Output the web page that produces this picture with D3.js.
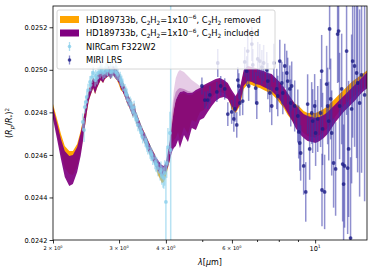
<!DOCTYPE html>
<html>
<head>
<meta charset="utf-8">
<script src="https://cdn.jsdelivr.net/npm/d3@7"></script>
<style>
  body { margin: 0; background: #fff; }
  text { font-family: "DejaVu Sans", sans-serif; }
</style>
</head>
<body>
<div id="chart-area"></div>
<script>
// model grid (micron) and transit depth envelopes
var modelWave = [2.00,2.05,2.10,2.15,2.21,2.26,2.32,2.37,
  2.40,2.43,2.46,2.49,2.52,2.56,2.59,2.62,2.65,2.68,
  2.72,2.75,2.79,2.82,2.85,2.89,2.93,2.96,3.00,3.03,
  3.07,3.11,3.15,3.19,3.23,3.27,3.29,
  3.33,3.37,3.41,3.45,3.49,3.54,3.58,3.63,3.67,3.72,
  3.76,3.81,3.86,3.90,3.95,4.00,4.05,4.10,4.15,4.20,
  4.25,4.31,4.36,
  4.47,4.58,4.69,4.81,4.93,5.05,5.17,5.30,5.43,5.57,
  5.71,5.85,5.99,6.14,6.30,6.45,6.61,6.78,6.94,7.12,
  7.29,7.48,7.66,7.85,8.05,8.25,8.45,8.66,8.87,9.10,
  9.32,9.55,9.79,10.03,10.28,10.54,10.80,11.07,11.34,11.62,
  11.91,12.21,12.51,12.82,13.14,13.47,13.80];

var purpleHi = [0.024825,0.024750,0.024675,0.024618,0.024595,0.024600,0.024637,0.024703,
  0.024750,0.024802,0.024858,0.024900,0.024933,0.024961,0.024952,0.024971,0.024985,0.024999,
  0.024985,0.024999,0.025008,0.025018,0.025004,0.025018,0.025008,0.024999,0.024985,0.024966,
  0.024943,0.024919,0.024896,0.024872,0.024853,0.024825,0.024844,
  0.024802,0.024778,0.024755,0.024731,0.024712,0.024689,0.024670,0.024647,0.024628,0.024609,
  0.024590,0.024576,0.024562,0.024553,0.024548,0.024567,0.024614,0.024670,0.024741,0.024811,
  0.024858,0.024882,0.024896,
  0.024900,0.024891,0.024891,0.024905,0.024914,0.024929,0.024938,0.024947,0.024957,0.024961,
  0.024952,0.024938,0.024905,0.024877,0.024914,0.024999,0.025018,0.025013,0.025008,0.024999,
  0.024994,0.024985,0.024980,0.024961,0.024943,0.024919,0.024891,0.024863,0.024835,0.024811,
  0.024792,0.024783,0.024778,0.024774,0.024778,0.024788,0.024802,0.024820,0.024839,0.024858,
  0.024877,0.024896,0.024914,0.024933,0.024952,0.024971,0.024990];

var purpleLo = [0.024769,0.024675,0.024581,0.024496,0.024454,0.024463,0.024520,0.024595,
  0.024656,0.024726,0.024797,0.024853,0.024882,0.024914,0.024886,0.024914,0.024933,0.024952,
  0.024938,0.024957,0.024966,0.024971,0.024957,0.024976,0.024961,0.024952,0.024938,0.024914,
  0.024896,0.024872,0.024844,0.024825,0.024802,0.024778,0.024797,
  0.024755,0.024731,0.024712,0.024684,0.024665,0.024642,0.024623,0.024600,0.024581,0.024562,
  0.024543,0.024524,0.024510,0.024501,0.024505,0.024520,0.024543,0.024576,0.024614,0.024632,
  0.024642,0.024670,0.024632,
  0.024694,0.024661,0.024726,0.024717,0.024764,0.024774,0.024802,0.024830,0.024853,0.024867,
  0.024872,0.024863,0.024830,0.024802,0.024839,0.024924,0.024947,0.024943,0.024933,0.024929,
  0.024919,0.024910,0.024900,0.024882,0.024858,0.024830,0.024797,0.024764,0.024726,0.024698,
  0.024679,0.024665,0.024661,0.024656,0.024665,0.024679,0.024698,0.024726,0.024755,0.024778,
  0.024802,0.024820,0.024839,0.024858,0.024882,0.024900,0.024914];

var orangeHi = [0.024839,0.024769,0.024698,0.024642,0.024618,0.024618,0.024651,0.024712,
  0.024759,0.024802,0.024858,0.024900,0.024933,0.024961,0.024952,0.024971,0.024985,0.024999,
  0.024985,0.024999,0.025008,0.025018,0.025004,0.025018,0.025008,0.024999,0.024980,0.024961,
  0.024943,0.024919,0.024896,0.024872,0.024853,0.024825,0.024844,
  0.024802,0.024778,0.024755,0.024731,0.024712,0.024689,0.024670,0.024647,0.024628,0.024609,
  0.024590,0.024567,0.024548,0.024534,0.024529,0.024553,0.024604,0.024661,0.024731,0.024802,
  0.024849,0.024872,0.024886,
  0.024891,0.024882,0.024882,0.024896,0.024905,0.024919,0.024929,0.024938,0.024947,0.024952,
  0.024943,0.024929,0.024891,0.024867,0.024900,0.024990,0.025008,0.025004,0.024999,0.024990,
  0.024985,0.024976,0.024971,0.024952,0.024933,0.024910,0.024882,0.024858,0.024839,0.024825,
  0.024806,0.024797,0.024797,0.024797,0.024806,0.024816,0.024830,0.024849,0.024867,0.024886,
  0.024905,0.024924,0.024943,0.024957,0.024971,0.024985,0.024999];

var orangeLo = [0.024783,0.024698,0.024614,0.024538,0.024510,0.024505,0.024548,0.024614,
  0.024670,0.024726,0.024797,0.024853,0.024882,0.024914,0.024886,0.024914,0.024933,0.024952,
  0.024938,0.024957,0.024966,0.024971,0.024957,0.024976,0.024961,0.024952,0.024929,0.024905,
  0.024896,0.024872,0.024844,0.024825,0.024802,0.024778,0.024797,
  0.024755,0.024731,0.024712,0.024684,0.024665,0.024642,0.024623,0.024600,0.024581,0.024562,
  0.024543,0.024505,0.024487,0.024468,0.024473,0.024501,0.024538,0.024576,0.024651,0.024670,
  0.024679,0.024708,0.024670,
  0.024731,0.024698,0.024764,0.024755,0.024802,0.024811,0.024839,0.024867,0.024891,0.024896,
  0.024891,0.024872,0.024816,0.024797,0.024830,0.024910,0.024933,0.024929,0.024919,0.024914,
  0.024905,0.024896,0.024886,0.024867,0.024844,0.024820,0.024788,0.024764,0.024745,0.024722,
  0.024703,0.024689,0.024684,0.024684,0.024694,0.024708,0.024726,0.024755,0.024783,0.024806,
  0.024830,0.024849,0.024867,0.024882,0.024900,0.024914,0.024929];

// wider posterior spread of the C2H2 model just past 4 micron
var haloWave = [4.10,4.15,4.20,4.25,4.31,4.36,4.47,4.58,4.69,4.81,4.93,5.05];
var haloHi   = [0.024694,0.024811,0.024905,0.024961,0.024990,0.024999,0.024990,0.024971,0.024952,0.024938,0.024924,0.024929];
var haloMid  = [0.024679,0.024774,0.024858,0.024896,0.024910,0.024914,0.024910,0.024900,0.024896,0.024900,0.024910,0.024929];
var haloBase = [0.024670,0.024741,0.024811,0.024858,0.024882,0.024896,0.024900,0.024891,0.024891,0.024905,0.024914,0.024929];

// NIRCam F322W2
var nirWave = [2.40,2.42,2.43,2.45,2.46,2.48,2.51,2.52,2.54,2.56,
  2.59,2.60,2.62,2.64,2.67,2.68,2.70,2.72,2.75,2.77,
  2.79,2.80,2.84,2.85,2.87,2.89,2.93,2.94,2.96,2.98,
  3.02,3.03,3.05,3.07,3.11,3.13,3.15,3.17,3.21,3.23,
  3.25,3.27,3.29,3.31,3.33,3.35,3.37,3.41,3.43,3.45,
  3.47,3.52,3.54,3.56,3.58,3.63,3.65,3.67,3.69,3.74,
  3.76,3.78,3.81,3.86,3.88,3.90,3.93,3.95,3.97,4.00,
  4.02,4.05,4.10,4.12];
var nirFlux = [0.024755,0.024717,0.024825,0.024849,0.024872,0.024905,0.024943,0.024929,0.024966,0.024985,
  0.024952,0.024971,0.024961,0.024985,0.024990,0.025008,0.024999,0.024985,0.024990,0.025004,
  0.024999,0.024999,0.024990,0.025008,0.024990,0.024999,0.024990,0.025013,0.024985,0.024976,
  0.024961,0.024952,0.024943,0.024929,0.024905,0.024891,0.024882,0.024858,0.024844,0.024835,
  0.024820,0.024802,0.024825,0.024788,0.024774,0.024764,0.024741,0.024726,0.024712,0.024703,
  0.024684,0.024670,0.024661,0.024647,0.024632,0.024614,0.024604,0.024600,0.024585,0.024567,
  0.024557,0.024553,0.024538,0.024520,0.024529,0.024505,0.024496,0.024491,0.024515,0.024379,
  0.024562,0.024637,0.024703,0.024623];
var nirErr = [0.000040,0.000056,0.000030,0.000030,0.000028,0.000030,0.000028,0.000030,0.000028,0.000030,
  0.000030,0.000028,0.000030,0.000028,0.000030,0.000028,0.000030,0.000030,0.000028,0.000030,
  0.000030,0.000028,0.000030,0.000028,0.000030,0.000030,0.000028,0.000030,0.000030,0.000028,
  0.000030,0.000028,0.000030,0.000030,0.000028,0.000030,0.000030,0.000028,0.000030,0.000030,
  0.000030,0.000028,0.000030,0.000030,0.000028,0.000030,0.000030,0.000028,0.000030,0.000030,
  0.000030,0.000032,0.000030,0.000032,0.000030,0.000032,0.000032,0.000030,0.000032,0.000035,
  0.000035,0.000035,0.000038,0.000040,0.000040,0.000045,0.000050,0.000050,0.000060,0.000180,
  0.000070,0.000090,0.000100,0.000800];

// MIRI LRS
var miriWave = [4.99,5.08,5.17,5.24,5.47,5.50,5.60,5.74,5.85,5.99,
  6.07,6.11,6.18,6.22,6.26,6.30,6.41,6.49,6.57,6.61,
  6.65,6.78,6.82,6.94,6.99,7.03,7.12,7.21,7.29,7.43,
  7.48,7.57,7.66,7.76,7.90,7.95,8.05,8.15,8.20,8.30,
  8.40,8.45,8.56,8.61,8.66,8.82,8.99,9.04,9.10,9.15,
  9.32,9.44,9.55,9.67,9.79,9.85,9.97,10.03,10.16,10.34,
  10.41,10.43,10.47,10.60,10.73,10.80,10.87,10.93,11.00,11.07,
  11.20,11.34,11.48,11.55,11.62,11.77,11.84,11.91,11.98,12.13,
  12.21,12.28,12.43,12.51,12.59,12.74,12.90,12.98,13.14,13.30,
  13.55];
var miriFlux = [0.024924,0.024858,0.024858,0.024882,0.024896,0.025032,0.024924,0.024910,0.024792,0.024802,
  0.024769,0.024816,0.024741,0.024952,0.024924,0.024844,0.024853,0.025037,0.024994,0.025088,
  0.024924,0.025121,0.025023,0.024914,0.024844,0.025051,0.025041,0.025013,0.025032,0.024999,
  0.024947,0.024891,0.024830,0.025032,0.024910,0.024877,0.025041,0.024938,0.024891,0.025018,
  0.024985,0.024947,0.024910,0.024844,0.024924,0.024830,0.024783,0.024708,0.024656,0.024609,
  0.024548,0.024426,0.024839,0.024628,0.024797,0.024759,0.024830,0.024703,0.024769,0.024797,
  0.024994,0.024435,0.024722,0.024426,0.024933,0.024830,0.024759,0.025192,0.024863,0.024703,
  0.024562,0.024534,0.025168,0.025182,0.024830,0.024910,0.024557,0.024463,0.024548,0.025088,
  0.024538,0.024628,0.024209,0.024816,0.025041,0.025018,0.024985,0.024938,0.024844,0.024976,
  0.024882];
var miriErr = [0.000040,0.000040,0.000042,0.000042,0.000047,0.000066,0.000047,0.000050,0.000056,0.000056,
  0.000060,0.000060,0.000060,0.000060,0.000060,0.000060,0.000066,0.000070,0.000070,0.000075,
  0.000070,0.000080,0.000075,0.000075,0.000075,0.000080,0.000080,0.000080,0.000085,0.000085,
  0.000085,0.000090,0.000090,0.000090,0.000095,0.000095,0.000100,0.000100,0.000100,0.000105,
  0.000105,0.000110,0.000110,0.000110,0.000115,0.000120,0.000125,0.000125,0.000130,0.000130,
  0.000135,0.000140,0.000140,0.000145,0.000145,0.000150,0.000150,0.000155,0.000155,0.000160,
  0.000170,0.000170,0.000170,0.000175,0.000180,0.000180,0.000185,0.000190,0.000190,0.000200,
  0.000210,0.000220,0.000230,0.000240,0.000250,0.000260,0.000270,0.000280,0.000290,0.000300,
  0.000310,0.000320,0.000380,0.000350,0.000360,0.000380,0.000400,0.000420,0.000440,0.000460,
  0.000500];

var yTicks = [0.0242, 0.0244, 0.0246, 0.0248, 0.0250, 0.0252];
var xLabelMant = [2, 3, 4, 6];
var xMinor = [5, 7, 8, 9];

var legendNames = ["NIRCam F322W2", "MIRI LRS"];

var margin = {left: 53, right: 6, top: 6, bottom: 34};
var width = 373 - margin.left - margin.right;
var height = 274 - margin.top - margin.bottom;

var svg = d3.select("#chart-area").append("svg")
    .attr("width", 373)
    .attr("height", 274);

var g = svg.append("g")
    .attr("transform", "translate(" + margin.left + "," + margin.top + ")");

var x = d3.scaleLog().domain([2, 13.75]).range([0, width]);
var y = d3.scaleLinear().domain([0.0242, 0.0253]).range([height, 0]);

g.append("clipPath").attr("id", "clip")
  .append("rect").attr("width", width).attr("height", height);

var plot = g.append("g").attr("clip-path", "url(#clip)");

function band(wave, hi, lo) {
    return wave.map(function(w, i) { return {w: w, hi: hi[i], lo: lo[i]}; });
}

var area = d3.area()
    .x(function(d) { return x(d.w); })
    .y0(function(d) { return y(d.lo); })
    .y1(function(d) { return y(d.hi); });

plot.append("path")
    .attr("fill", "orange")
    .attr("d", area(band(modelWave, orangeHi, orangeLo)));

plot.append("path")
    .attr("fill", "purple").attr("opacity", 0.2)
    .attr("d", area(band(haloWave, haloHi, haloBase)));
plot.append("path")
    .attr("fill", "purple").attr("opacity", 0.3)
    .attr("d", area(band(haloWave, haloMid, haloBase)));

plot.append("path")
    .attr("fill", "purple").attr("opacity", 0.93)
    .attr("d", area(band(modelWave, purpleHi, purpleLo)));

function errorbars(wave, flux, err, lineCol, lineOp, dotCol, dotOp) {
    var pts = wave.map(function(w, i) { return {w: w, f: flux[i], e: err[i]}; });
    plot.append("g").selectAll("line").data(pts).enter().append("line")
        .attr("x1", function(d) { return x(d.w); })
        .attr("x2", function(d) { return x(d.w); })
        .attr("y1", function(d) { return y(d.f - d.e); })
        .attr("y2", function(d) { return y(d.f + d.e); })
        .attr("stroke", lineCol).attr("stroke-opacity", lineOp)
        .attr("stroke-width", 1.5);
    plot.append("g").selectAll("circle").data(pts).enter().append("circle")
        .attr("cx", function(d) { return x(d.w); })
        .attr("cy", function(d) { return y(d.f); })
        .attr("r", 1.9)
        .attr("fill", dotCol).attr("fill-opacity", dotOp);
}

errorbars(nirWave, nirFlux, nirErr, "#87ceeb", 0.6, "#87ceeb", 0.75);
errorbars(miriWave, miriFlux, miriErr, "#3535a8", 0.55, "#1c1c86", 0.8);

// axes
var yAxis = g.append("g")
    .call(d3.axisLeft(y).tickValues(yTicks).tickFormat(d3.format(".4f")).tickSize(3.5).tickPadding(2));
yAxis.selectAll("text").attr("font-size", 6.6).attr("font-family", "DejaVu Sans").attr("fill", "#000");

g.append("g")
    .attr("transform", "translate(0," + height + ")")
    .call(d3.axisBottom(x).tickValues(xLabelMant.concat([10])).tickFormat("").tickSize(3.5));
g.append("g")
    .attr("transform", "translate(0," + height + ")")
    .call(d3.axisBottom(x).tickValues(xMinor).tickFormat("").tickSize(2));

g.selectAll(".domain").remove();
g.selectAll(".tick line").attr("stroke", "#000").attr("stroke-width", 0.8);

g.append("rect")
    .attr("width", width).attr("height", height)
    .attr("fill", "none").attr("stroke", "#000").attr("stroke-width", 0.8);

function rich(sel, parts, fs) {
    var shift = 0;
    parts.forEach(function(p) {
        var target = p[1] === "sub" ? fs * 0.28 : p[1] === "sup" ? -fs * 0.42 : 0;
        var t = sel.append("tspan")
            .attr("dy", target - shift)
            .attr("font-size", p[1] ? fs * 0.7 : fs)
            .text(p[0]);
        if (p[2]) t.attr("font-style", "italic");
        shift = target;
    });
}

xLabelMant.forEach(function(m) {
    var t = g.append("text")
        .attr("x", x(m)).attr("y", height + 10)
        .attr("text-anchor", "middle").attr("font-size", 5);
    rich(t, [[m + " \u00d7 10", ""], ["0", "sup"]], 5);
});
var t10 = g.append("text")
    .attr("x", x(10)).attr("y", height + 11)
    .attr("text-anchor", "middle");
rich(t10, [["10", ""], ["1", "sup"]], 6.6);

var xl = g.append("text")
    .attr("x", width / 2).attr("y", height + 25)
    .attr("text-anchor", "middle");
rich(xl, [["\u03bb", "", true], ["[", ""], ["\u03bc", "", true], ["m]", ""]], 8);

var yl = svg.append("text")
    .attr("transform", "translate(12," + (margin.top + height / 2) + ") rotate(-90)")
    .attr("text-anchor", "middle");
rich(yl, [["(", ""], ["R", "", true], ["p", "sub", true], ["/", ""], ["R", "", true], ["*", "sub"], [")", ""], ["2", "sup"]], 8);

// legend
var lg = svg.append("g").attr("transform", "translate(57,10)");
lg.append("rect")
    .attr("width", 218).attr("height", 59).attr("rx", 2)
    .attr("fill", "#fff").attr("fill-opacity", 0.8)
    .attr("stroke", "#cccccc").attr("stroke-width", 0.8);

var c2h2 = [["HD189733b, C", ""], ["2", "sub"], ["H", ""], ["2", "sub"], ["=1x10", ""], ["\u22126", "sup"], [", C", ""], ["2", "sub"], ["H", ""], ["2", "sub"]];
var rows = [
    {type: "patch", color: "orange", parts: c2h2.concat([[" removed", ""]])},
    {type: "patch", color: "purple", parts: c2h2.concat([[" included", ""]])},
    {type: "err", color: "#87ceeb", dot: "#87ceeb", parts: [[legendNames[0], ""]]},
    {type: "err", color: "#5a5ab8", dot: "#1c1c86", parts: [[legendNames[1], ""]]}
];
rows.forEach(function(r, i) {
    var cy = 9.5 + i * 13.5;
    if (r.type === "patch") {
        lg.append("rect").attr("x", 3).attr("y", cy - 3.5).attr("width", 19).attr("height", 7).attr("fill", r.color);
    } else {
        lg.append("line").attr("x1", 12.5).attr("x2", 12.5).attr("y1", cy - 4.5).attr("y2", cy + 4.5)
            .attr("stroke", r.color).attr("stroke-width", 1.3).attr("stroke-opacity", 0.7);
        lg.append("circle").attr("cx", 12.5).attr("cy", cy).attr("r", 1.8).attr("fill", r.dot).attr("fill-opacity", 0.8);
    }
    var t = lg.append("text").attr("x", 29).attr("y", cy + 3);
    rich(t, r.parts, 8.3);
});
</script>
</body>
</html>
